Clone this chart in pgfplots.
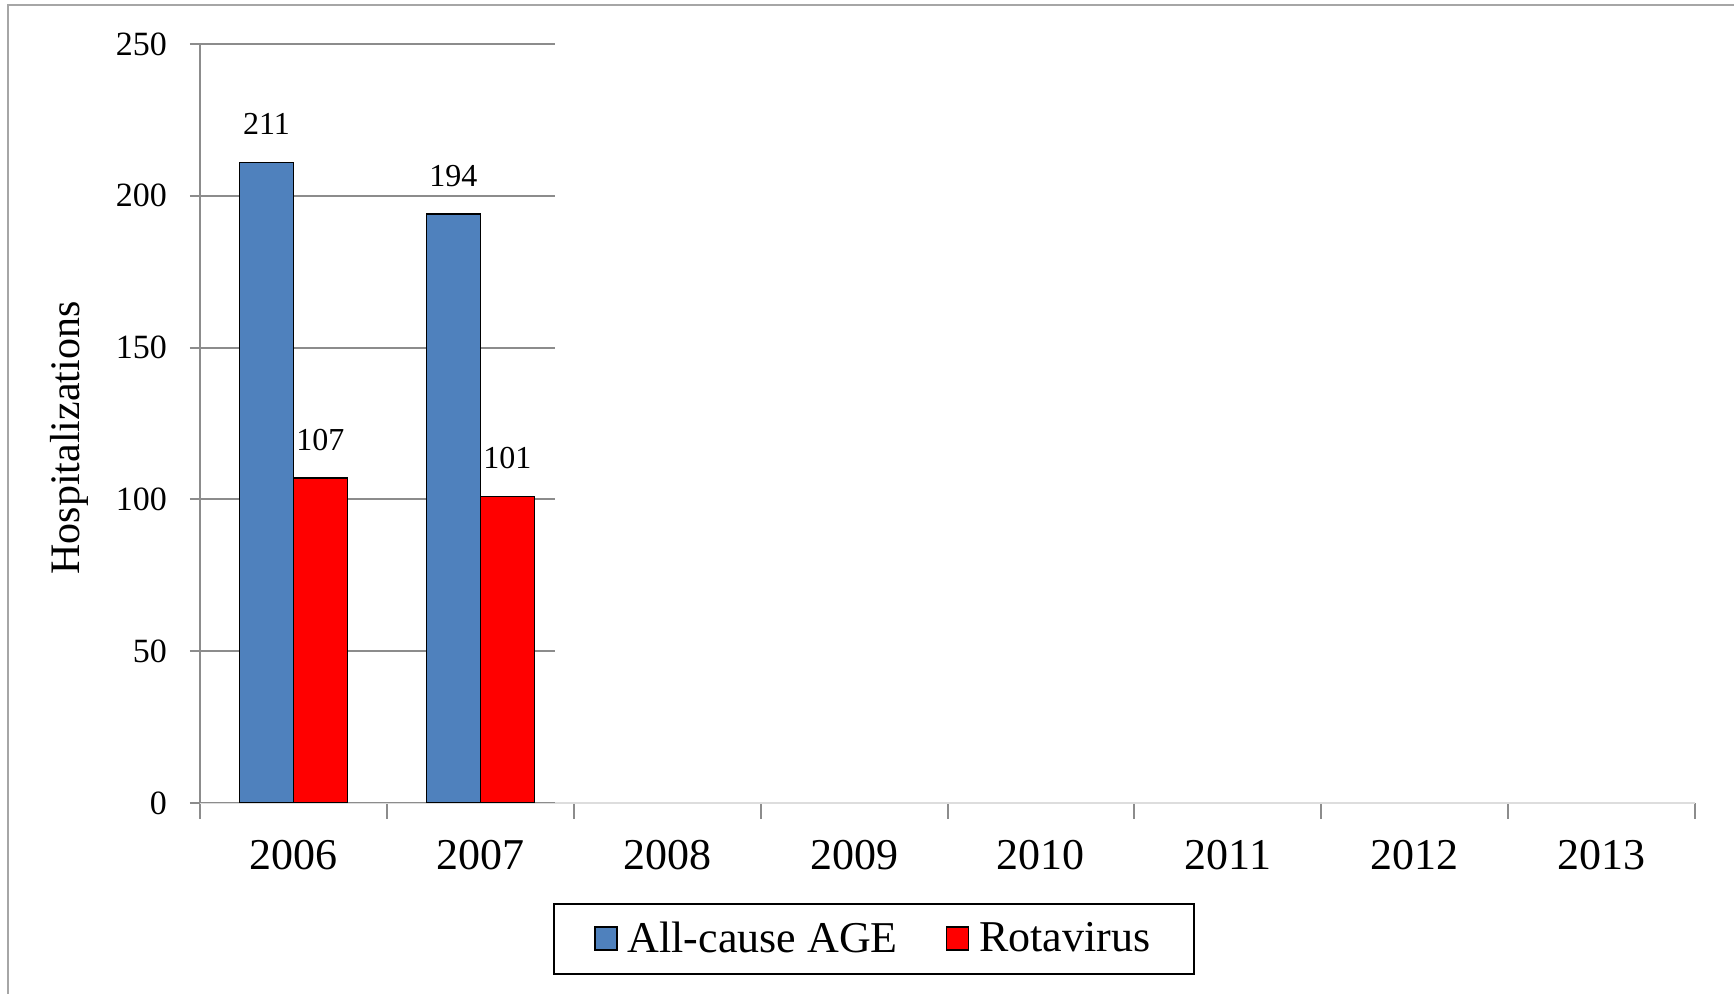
\documentclass[border=0pt]{standalone}
\usepackage{pgfplots}
\pgfplotsset{compat=1.18}
\usepackage{fontspec}
\setmainfont{Liberation Serif}

\definecolor{ageblue}{HTML}{4F81BD}
\definecolor{rotared}{HTML}{FF0000}
\definecolor{gridgray}{HTML}{8C8C8C}
\definecolor{faintgray}{HTML}{DDDDDD}

\begin{document}
\begin{tikzpicture}
% fix the page to the reference's frame (0.5pt per pixel)
\path[use as bounding box] (-100pt,-95.5pt) rectangle (767pt,401.5pt);
\draw[gray!70, line width=1pt] (-96pt,-95.5pt) -- (-96pt,399pt) -- (767pt,399pt);

\begin{axis}[
  scale only axis, width=747.5pt, height=379.5pt,
  xmin=0, xmax=8, ymin=0, ymax=250,
  axis lines*=left,
  x axis line style={draw=faintgray, line width=0.8pt, -},
  y axis line style={draw=gridgray, line width=1pt, -},
  tick align=outside,
  xtick={0.5,1.5,...,7.5},
  xticklabels={2006,2007,2008,2009,2010,2011,2012,2013},
  minor xtick={0,...,8},
  major x tick style={draw=none},
  minor x tick style={draw=gridgray, line width=1pt},
  minor tick length=8pt,
  major tick length=5pt,
  ytick={0,50,...,250},
  y tick style={draw=gridgray, line width=1pt},
  /pgf/number format/assume math mode=true,
  xticklabel style={font=\fontsize{22}{26}\selectfont, yshift=-10pt},
  yticklabel style={font=\fontsize{17}{20}\selectfont, xshift=-8pt},
  ylabel={Hospitalizations},
  ylabel style={font=\fontsize{21}{24}\selectfont, at={(axis description cs:-0.0876,0.481)}, anchor=center, rotate=0},
  ybar=0pt, bar width=0.289,
  nodes near coords,
  every node near coord/.append style={font=\fontsize{16}{19}\selectfont, yshift=10pt, text=black},
  legend columns=2,
  legend style={at={(axis description cs:0.451,-0.1318)}, anchor=north,
    draw=black, line width=1pt, inner xsep=20pt, inner ysep=7pt,
    font=\fontsize{22}{26}\selectfont,
    /tikz/every odd column/.append style={column sep=3pt},
    /tikz/every even column/.append style={column sep=22pt}},
  legend image code/.code={\draw[#1, line width=0.8pt] (0pt,-5.5pt) rectangle (11pt,6pt);},
]
% gridlines only span the first two years, as in the source
\draw[gridgray, line width=1pt] (axis cs:0,50) -- (axis cs:1.9,50);
\draw[gridgray, line width=1pt] (axis cs:0,100) -- (axis cs:1.9,100);
\draw[gridgray, line width=1pt] (axis cs:0,150) -- (axis cs:1.9,150);
\draw[gridgray, line width=1pt] (axis cs:0,200) -- (axis cs:1.9,200);
\draw[gridgray, line width=1pt] (axis cs:0,250) -- (axis cs:1.9,250);
\draw[gridgray, line width=1.3pt] (axis cs:0,0) -- (axis cs:1.9,0);

\addplot[draw=black, line width=0.8pt, fill=ageblue] coordinates {(0.5,211) (1.5,194)};
\addplot[draw=black, line width=0.8pt, fill=rotared] coordinates {(0.5,107) (1.5,101)};
\legend{All-cause AGE, Rotavirus}
\end{axis}
\end{tikzpicture}
\end{document}
